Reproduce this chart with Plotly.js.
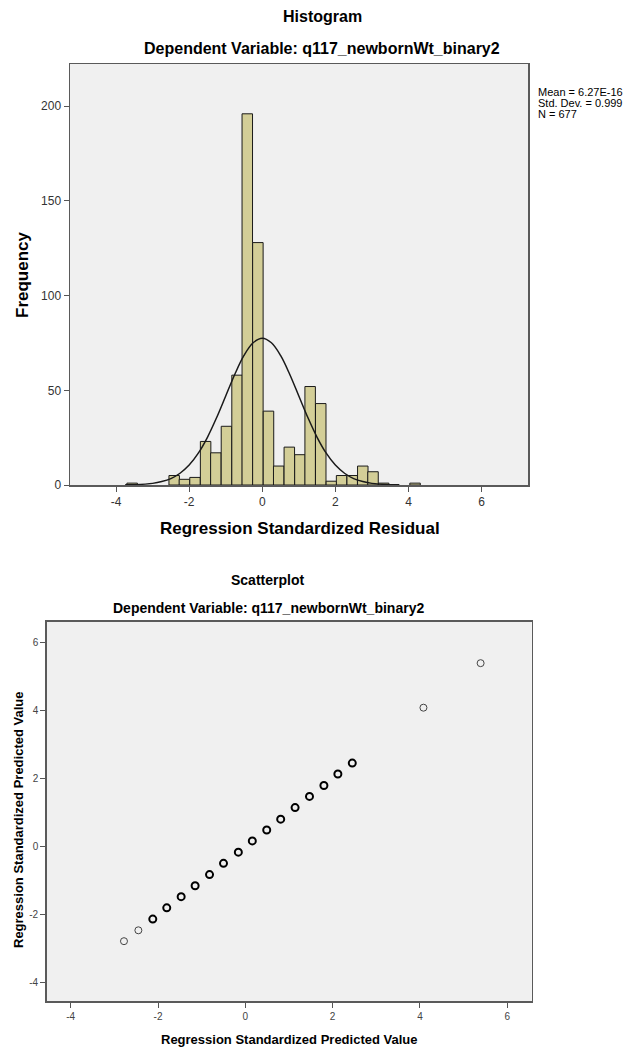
<!DOCTYPE html>
<html>
<head>
<meta charset="utf-8">
<script src="https://cdn.plot.ly/plotly-3.0.1.min.js"></script>
<style>html,body{margin:0;padding:0;background:#fff;}#chart{width:644px;height:1049px;}</style>
</head>
<body>
<div id="chart"></div>
<script>
// ---- Histogram data (bin centres of regression standardized residuals, counts) ----
var binCenters = [-3.56, -2.41, -2.13, -1.84, -1.55, -1.27, -0.98, -0.69, -0.41, -0.12, 0.17, 0.45, 0.74, 1.03, 1.31, 1.60, 1.89, 2.17, 2.46, 2.75, 3.03, 3.32, 4.18];
var binCounts  = [1, 5, 3, 4, 23, 17, 31, 58, 196, 128, 39, 10, 20, 16, 52, 43, 2, 5, 5, 10, 7, 1, 1];
var binWidth = 0.2866;

// ---- Normal curve ----
var normalX = [-3.75, -3.5, -3, -2.75, -2.5, -2.25, -2, -1.75, -1.5, -1.25, -1, -0.75, -0.5, -0.25, 0, 0.25, 0.5, 0.75, 1, 1.25, 1.5, 1.75, 2, 2.25, 2.5, 2.75, 3, 3.5, 3.75];
var normalY = [0.07, 0.17, 0.86, 1.8, 3.4, 6.2, 10.5, 16.8, 25.2, 35.5, 47.0, 58.5, 68.4, 75.1, 77.5, 75.1, 68.4, 58.5, 47.0, 35.5, 25.2, 16.8, 10.5, 6.2, 3.4, 1.8, 0.86, 0.17, 0.07];

var statsLines = ["Mean = 6.27E-16", "Std. Dev. = 0.999", "N = 677"];

// ---- Scatterplot data (predicted vs predicted) ----
var singleX = [-2.78, -2.45, 4.08, 5.39];
var singleY = [-2.78, -2.46, 4.09, 5.40];
var multiX  = [-2.12, -1.80, -1.47, -1.15, -0.82, -0.50, -0.16, 0.16, 0.49, 0.81, 1.14, 1.47, 1.80, 2.12, 2.45];
var multiY  = [-2.13, -1.80, -1.47, -1.15, -0.82, -0.49, -0.16, 0.17, 0.49, 0.81, 1.15, 1.48, 1.80, 2.14, 2.46];

// ---- Tick labels ----
var histXTickVals = [-4, -2, 0, 2, 4, 6];
var histXTickText = ["-4", "-2", "0", "2", "4", "6"];
var histYTickVals = [0, 50, 100, 150, 200];
var histYTickText = ["0", "50", "100", "150", "200"];
var scatTickVals = [-4, -2, 0, 2, 4, 6];
var scatTickText = ["-4", "-2", "0", "2", "4", "6"];

var histTitle = "Histogram";
var depVar = "Dependent Variable: q117_newbornWt_binary2";
var histXTitle = "Regression Standardized Residual";
var histYTitle = "Frequency";
var scatTitle = "Scatterplot";
var scatXTitle = "Regression Standardized Predicted Value";
var scatYTitle = "Regression Standardized Predicted Value";

var W = 644, H = 1049;
function px(x){ return x / W; }
function py(y){ return 1 - y / H; }

var FONT = "Arial, 'Liberation Sans', sans-serif";

var traces = [
  {
    type: "bar", x: binCenters, y: binCounts, width: binWidth,
    marker: {color: "#d3ce97", line: {color: "#1a1a1a", width: 1}},
    xaxis: "x", yaxis: "y", hoverinfo: "x+y"
  },
  {
    type: "scatter", mode: "lines", x: normalX, y: normalY,
    line: {color: "#1a1a1a", width: 1.5, shape: "spline", smoothing: 1},
    xaxis: "x", yaxis: "y", hoverinfo: "skip"
  },
  {
    type: "scatter", mode: "markers", x: singleX, y: singleY,
    marker: {symbol: "circle-open", size: 7, color: "#444", line: {width: 1, color: "#444"}},
    xaxis: "x2", yaxis: "y2"
  },
  {
    type: "scatter", mode: "markers", x: multiX, y: multiY,
    marker: {symbol: "circle-open", size: 7, color: "#000", line: {width: 2, color: "#000"}},
    xaxis: "x2", yaxis: "y2"
  }
];

var axisCommon = {
  showgrid: false, zeroline: false, showline: true, mirror: true,
  linecolor: "#5a5a5a", linewidth: 1.5,
  ticks: "outside", ticklen: 5, tickwidth: 1, tickcolor: "#555",
  tickmode: "array",
  automargin: false, fixedrange: true
};

var layout = {
  width: W, height: H,
  margin: {l: 0, r: 0, t: 0, b: 0, pad: 0},
  paper_bgcolor: "#ffffff",
  plot_bgcolor: "#f0f0f0",
  showlegend: false,
  bargap: 0,
  xaxis: Object.assign({}, axisCommon, {
    domain: [px(70), px(528)], range: [-5.26, 7.27],
    tickvals: histXTickVals, ticktext: histXTickText,
    anchor: "y", tickfont: {family: FONT, size: 12, color: "#333"}
  }),
  yaxis: Object.assign({}, axisCommon, {
    domain: [py(485), py(64)], range: [0, 222.3],
    tickvals: histYTickVals, ticktext: histYTickText,
    anchor: "x", tickfont: {family: FONT, size: 12, color: "#333"}
  }),
  xaxis2: Object.assign({}, axisCommon, {
    domain: [px(46.7), px(531.7)], range: [-4.55, 6.56],
    tickvals: scatTickVals, ticktext: scatTickText,
    anchor: "y2", tickfont: {family: FONT, size: 10, color: "#444"}
  }),
  yaxis2: Object.assign({}, axisCommon, {
    domain: [py(1001), py(621.7)], range: [-4.54, 6.62],
    tickvals: scatTickVals, ticktext: scatTickText,
    anchor: "x2", tickfont: {family: FONT, size: 10, color: "#444"}
  }),
  annotations: [
    {text: "<b>" + histTitle + "</b>", x: px(322), y: py(17), xref: "paper", yref: "paper", showarrow: false, xanchor: "center", yanchor: "middle", font: {family: FONT, size: 16, color: "#000"}},
    {text: "<b>" + depVar + "</b>", x: px(322), y: py(48), xref: "paper", yref: "paper", showarrow: false, xanchor: "center", yanchor: "middle", font: {family: FONT, size: 16, color: "#000"}},
    {text: "<b>" + histXTitle + "</b>", x: px(300), y: py(528), xref: "paper", yref: "paper", showarrow: false, xanchor: "center", yanchor: "middle", font: {family: FONT, size: 17, color: "#000"}},
    {text: "<b>" + histYTitle + "</b>", x: px(22), y: py(275), xref: "paper", yref: "paper", showarrow: false, textangle: -90, xanchor: "center", yanchor: "middle", font: {family: FONT, size: 17, color: "#000"}},
    {text: statsLines[0], x: px(536), y: py(92), xref: "paper", yref: "paper", showarrow: false, xanchor: "left", yanchor: "middle", font: {family: FONT, size: 11, color: "#000"}},
    {text: statsLines[1], x: px(536), y: py(103), xref: "paper", yref: "paper", showarrow: false, xanchor: "left", yanchor: "middle", font: {family: FONT, size: 11, color: "#000"}},
    {text: statsLines[2], x: px(536), y: py(114), xref: "paper", yref: "paper", showarrow: false, xanchor: "left", yanchor: "middle", font: {family: FONT, size: 11, color: "#000"}},
    {text: "<b>" + scatTitle + "</b>", x: px(267), y: py(580), xref: "paper", yref: "paper", showarrow: false, xanchor: "center", yanchor: "middle", font: {family: FONT, size: 14, color: "#000"}},
    {text: "<b>" + depVar + "</b>", x: px(268), y: py(608), xref: "paper", yref: "paper", showarrow: false, xanchor: "center", yanchor: "middle", font: {family: FONT, size: 14, color: "#000"}},
    {text: "<b>" + scatXTitle + "</b>", x: px(289), y: py(1039), xref: "paper", yref: "paper", showarrow: false, xanchor: "center", yanchor: "middle", font: {family: FONT, size: 13, color: "#000"}},
    {text: "<b>" + scatYTitle + "</b>", x: px(18), y: py(820), xref: "paper", yref: "paper", showarrow: false, textangle: -90, xanchor: "center", yanchor: "middle", font: {family: FONT, size: 13, color: "#000"}}
  ]
};

Plotly.newPlot("chart", traces, layout, {displayModeBar: false, staticPlot: true});
</script>
</body>
</html>
